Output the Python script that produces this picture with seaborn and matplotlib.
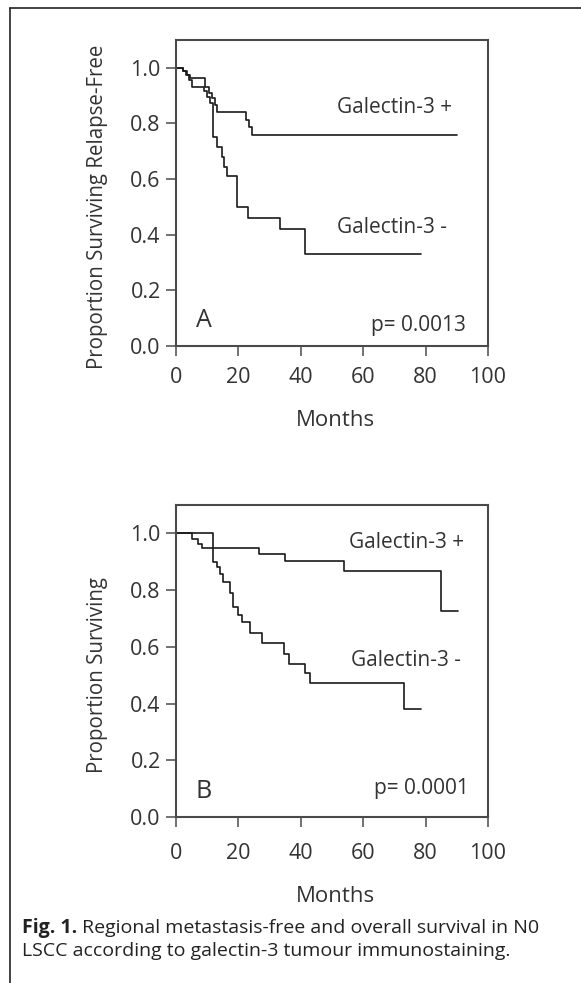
import numpy as np
import pandas as pd
import matplotlib.pyplot as plt
import seaborn as sns
from matplotlib.lines import Line2D

# Kaplan-Meier step values
# Panel A: relapse-free (regional metastasis-free) survival
pos_rf_months = [0, 2.3, 3.5, 4.5, 9.3, 10.5, 11.5, 12.5, 13.3, 22.3, 23.3, 24.3, 90]
pos_rf_surv = [1.0, 0.987, 0.975, 0.962, 0.93, 0.91, 0.89, 0.865, 0.84, 0.813, 0.787, 0.76, 0.76]
neg_rf_months = [0, 2.3, 3.2, 4.2, 5.0, 9.0, 10.0, 11.0, 12.0, 13.0, 14.8, 15.5, 16.5,
                 19.5, 23.0, 33.2, 41.2, 78.5]
neg_rf_surv = [1.0, 0.99, 0.975, 0.955, 0.931, 0.915, 0.895, 0.875, 0.75, 0.715, 0.68,
               0.645, 0.61, 0.50, 0.46, 0.42, 0.33, 0.33]

# Panel B: overall survival
pos_os_months = [0, 5.0, 7.2, 8.3, 26.5, 35.0, 53.8, 84.9, 90.5]
pos_os_surv = [1.0, 0.981, 0.963, 0.95, 0.928, 0.903, 0.868, 0.726, 0.726]
neg_os_months = [0, 12.0, 13.1, 14.1, 15.2, 17.4, 18.4, 20.0, 21.1, 23.8, 27.5, 34.7,
                 36.1, 41.5, 43.1, 73.1, 78.5]
neg_os_surv = [1.0, 0.90, 0.88, 0.858, 0.829, 0.788, 0.74, 0.711, 0.688, 0.649, 0.614,
               0.576, 0.541, 0.506, 0.473, 0.38, 0.38]

x_ticks = [0, 20, 40, 60, 80, 100]
y_ticks = [0.0, 0.2, 0.4, 0.6, 0.8, 1.0]
panel_letters = ["A", "B"]
p_values = ["p= 0.0013", "p= 0.0001"]
y_labels = ["Proportion Surviving Relapse-Free", "Proportion Surviving"]
caption_bold = "Fig. 1."
caption_rest = [" Regional metastasis-free and overall survival in N0",
                "LSCC according to galectin-3 tumour immunostaining."]


def km_frame(months, surv, group):
    return pd.DataFrame({"Months": months, "Survival": surv, "Group": group})


df_rf = pd.concat([km_frame(pos_rf_months, pos_rf_surv, "Galectin-3 +"),
                   km_frame(neg_rf_months, neg_rf_surv, "Galectin-3 -")])
df_os = pd.concat([km_frame(pos_os_months, pos_os_surv, "Galectin-3 +"),
                   km_frame(neg_os_months, neg_os_surv, "Galectin-3 -")])

sns.set_theme(style="ticks")
plt.rcParams['font.family'] = ['Open Sans', 'DejaVu Sans']
TXT = "#333333"
SPINE = "#4a4a4a"
FS = 15.5

W, H = 581, 983
fig = plt.figure(figsize=(W / 100, H / 100), dpi=100)
ax_a = fig.add_axes([176 / W, 1 - 346 / H, 312 / W, 306 / H])
ax_b = fig.add_axes([176 / W, 1 - 817 / H, 312 / W, 312 / H])

# label positions (data coords) for the group names
lab_pos = [
    {"Galectin-3 +": (51.7, 0.858), "Galectin-3 -": (51.7, 0.427), "p": (93, 0.075)},
    {"Galectin-3 +": (55.4, 0.968), "Galectin-3 -": (56.0, 0.553), "p": (94, 0.102)},
]
# pixel offsets below the axis: tick-label pad (pt) and "Months" centre (px)
x_pad = [8, 12]
months_off = [74, 80]

for i, (ax, df) in enumerate([(ax_a, df_rf), (ax_b, df_os)]):
    sns.lineplot(data=df, x="Months", y="Survival", hue="Group",
                 palette=["#1a1a1a", "#1a1a1a"], drawstyle="steps-post",
                 estimator=None, linewidth=1.2, legend=False, ax=ax)
    ax.set_xlim(0, 100)
    ax.set_ylim(0, 1.1)
    ax.set_xticks(x_ticks)
    ax.set_yticks(y_ticks)
    ax.set_xticklabels([str(t) for t in x_ticks])
    ax.set_yticklabels([f"{t:.1f}" for t in y_ticks])
    ax.tick_params(direction="out", length=7, width=1.1, color=SPINE,
                   labelsize=FS, labelcolor=TXT)
    ax.tick_params(axis="x", pad=x_pad[i])
    ax.tick_params(axis="y", pad=4)
    for s in ax.spines.values():
        s.set_visible(True)
        s.set_color(SPINE)
        s.set_linewidth(1.5)
    ax.set_xlabel("Months", fontsize=FS + 0.5, color=TXT)
    ax.set_ylabel(y_labels[i], fontsize=14.8, color=TXT)
    ax.xaxis.label.set_va("center")
    ax.yaxis.label.set_va("center")
    ax.xaxis.set_label_coords(0.51, -months_off[i] / (306 if i == 0 else 312))
    ax.yaxis.set_label_coords(-0.253, 0.5 / 1.1)
    for g in ["Galectin-3 +", "Galectin-3 -"]:
        x, y = lab_pos[i][g]
        ax.text(x, y, g, fontsize=15, color=TXT, ha="left", va="center")
    px, py = lab_pos[i]["p"]
    ax.text(px, py, p_values[i], fontsize=15, color=TXT, ha="right", va="center")
    ax.text(6.3, 0.09, panel_letters[i], fontsize=18, color=TXT, ha="left", va="center")

# page frame
fig.add_artist(Line2D([10 / W, 10 / W], [0, 1 - 7.5 / H], transform=fig.transFigure,
                      color="#222222", linewidth=1.2))
fig.add_artist(Line2D([10 / W, 1], [1 - 7.5 / H, 1 - 7.5 / H], transform=fig.transFigure,
                      color="#222222", linewidth=1.2))

# caption
CFS = 14
t1 = fig.text(22 / W, 1 - 928 / H, caption_bold, fontsize=CFS, fontweight="bold",
              color="#222222", ha="left", va="center")
fig.canvas.draw()
bb = t1.get_window_extent()
fig.text(bb.x1 / W, 1 - 928 / H, caption_rest[0], fontsize=CFS, color="#222222",
         ha="left", va="center")
fig.text(22 / W, 1 - 951 / H, caption_rest[1], fontsize=CFS, color="#222222",
         ha="left", va="center")

fig.savefig("out.png", dpi=100)
